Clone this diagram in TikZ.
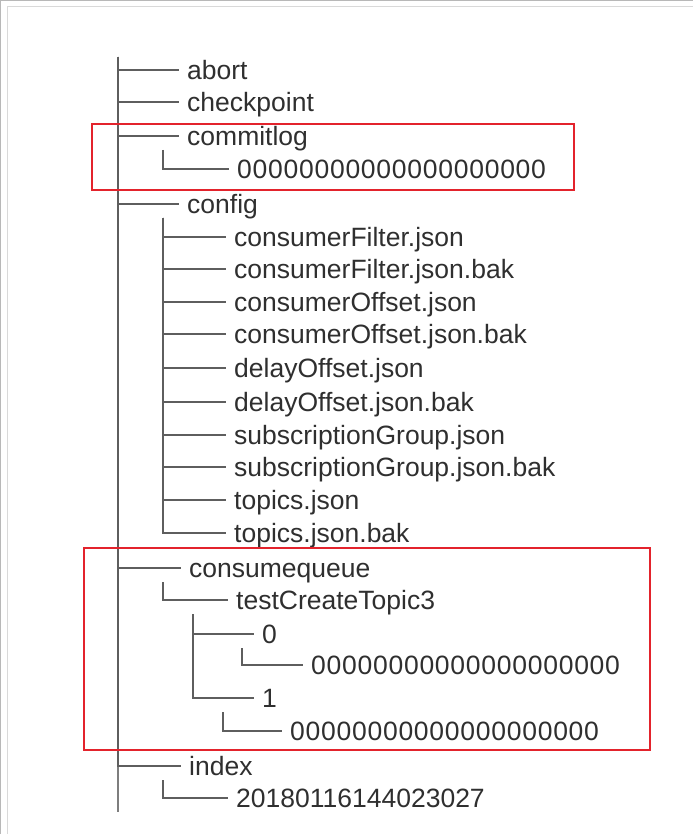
\documentclass[tikz,border=0pt]{standalone}
\usepackage{fontspec}
\setmainfont{Liberation Sans}
\usetikzlibrary{positioning}
\definecolor{ink}{HTML}{2F2F2F}
\definecolor{wire}{HTML}{5E5E5E}
\definecolor{mark}{HTML}{E3232C}
\tikzset{entry/.style={anchor=west,inner xsep=0pt,inner ysep=0pt,text=ink,font=\fontsize{26.5}{30}\selectfont,text height=24pt,text depth=5pt}, digits/.style={entry,font=\fontsize{26.5}{30}\selectfont\addfontfeature{LetterSpace=2.8}}, branch/.style={draw=wire,line width=1.2pt,shorten >=8pt}, spine/.style={draw=wire!80,line width=1.2pt}, hilite/.style={draw=mark,line width=1.6pt}, frame/.style={draw=black!28,line width=1pt}}

\begin{document}
\begin{tikzpicture}[x=1pt,y=-1pt]
\useasboundingbox (0,0) rectangle (693,834);
\draw[frame](0,.5)--(693,.5);\draw[frame](.5,0)--(.5,834);\draw[frame,black!15](7,7)--(693,7);\draw[frame,black!15](7,7)--(7,834);
% top level
\node[entry] (abort) at (187,70){abort};\node[entry] (ckpt) at (187,102){checkpoint};\node[entry] (clog) at (187,136){commitlog};
\node[digits] (clf) at (237,169){00000000000000000000};\node[entry] (config) at (187,204){config};
\node[entry] (cf1) at (234,237){consumerFilter.json};\node[entry] (cf2) at (234,269){consumerFilter.json.bak};
\node[entry] (cf3) at (234,302){consumerOffset.json};\node[entry] (cf4) at (234,334){consumerOffset.json.bak};
\node[entry] (cf5) at (234,368){delayOffset.json};\node[entry] (cf6) at (234,402){delayOffset.json.bak};
\node[entry] (cf7) at (234,435){subscriptionGroup.json};\node[entry] (cf8) at (234,467){subscriptionGroup.json.bak};
\node[entry] (cf9) at (234,500){topics.json};\node[entry] (cf10) at (234,533){topics.json.bak};
\node[entry] (cq) at (189,568){consumequeue};\node[entry] (topic) at (236,600){testCreateTopic3};
\node[entry] (q0) at (262,634){0};\node[digits] (q0f) at (311,665){00000000000000000000};
\node[entry] (q1) at (262,698){1};\node[digits] (q1f) at (290,731){00000000000000000000};
\node[entry] (index) at (189,766){index};\node[entry] (ixf) at (236,798){20180116144023027};
% tree lines
\coordinate (root) at (118,57);\coordinate (rootend) at (118,812);\coordinate (clv) at (163,150);\coordinate (cfv) at (163,218);
\coordinate (cqv) at (163,582);\coordinate (tpv) at (193,614);\coordinate (q0v) at (242,648);\coordinate (q1v) at (223,712);\coordinate (ixv) at (163,780);
\draw[spine](root)--(rootend);
\draw[branch](root)|-(abort.west);\draw[branch](root)|-(ckpt.west);\draw[branch](root)|-(clog.west);\draw[branch](root)|-(config.west);\draw[branch](root)|-(cq.west);\draw[branch](root)|-(index.west);
\draw[branch](clv)|-(clf.west);
\draw[branch](cfv)|-(cf1.west);\draw[branch](cfv)|-(cf2.west);\draw[branch](cfv)|-(cf3.west);\draw[branch](cfv)|-(cf4.west);\draw[branch](cfv)|-(cf5.west);
\draw[branch](cfv)|-(cf6.west);\draw[branch](cfv)|-(cf7.west);\draw[branch](cfv)|-(cf8.west);\draw[branch](cfv)|-(cf9.west);\draw[branch](cfv)|-(cf10.west);
\draw[branch](cqv)|-(topic.west);\draw[branch](tpv)|-(q0.west);\draw[branch](tpv)|-(q1.west);
\draw[branch](q0v)|-(q0f.west);\draw[branch](q1v)|-(q1f.west);\draw[branch](ixv)|-(ixf.west);
% highlighted parts
\draw[hilite](92,124) rectangle (574,190);
\draw[hilite](84,548) rectangle (650,750);
\end{tikzpicture}
\end{document}
